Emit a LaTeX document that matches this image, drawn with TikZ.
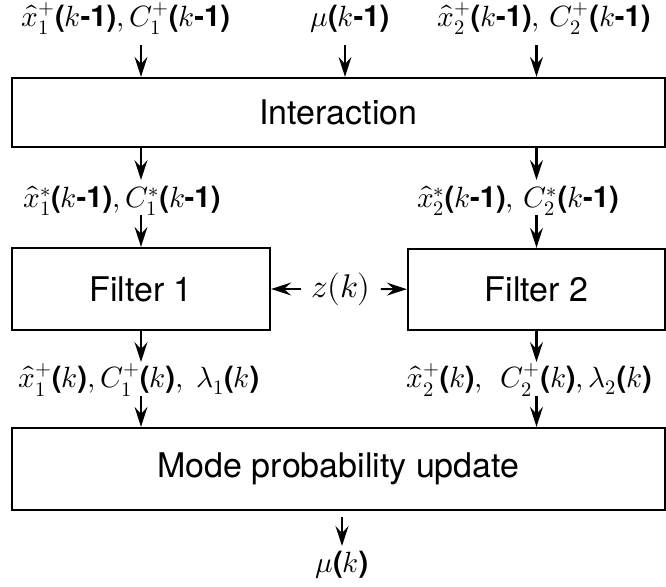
\documentclass[tikz,border=0pt]{standalone}
\usepackage{amsmath}
\usepackage{fontspec}
\usepackage{unicode-math}
\setmathfont{Latin Modern Math}
\setsansfont{TeX Gyre Heros}
\usepackage{tikz}
\usetikzlibrary{arrows.meta}
\newcommand{\bsf}[1]{\text{\sffamily\bfseries #1}}
\newcommand{\kmo}{\bsf{(}k\bsf{-1)}}
\newcommand{\kk}{\bsf{(}k\bsf{)}}

\begin{document}
\begin{tikzpicture}[
      x=0.03cm, y=-0.03cm,
      blk/.style={
        draw, line width=2pt, inner sep=0pt,
        font=\sffamily\fontsize{29}{34}\selectfont
      },
      lbl/.style={inner sep=0pt, font=\fontsize{25}{30}\selectfont},
      arr/.style={-{Stealth[length=17pt,width=11pt,inset=6pt]}, line width=1.8pt}
    ]
      \useasboundingbox (0,0) rectangle (666,587);
      % blocks
      \node[blk, minimum width=19.59cm, minimum height=2.07cm] (inter) at (338.5,112.5){Interaction};
      \node[blk, minimum width=7.74cm, minimum height=2.46cm] (f1) at (141,289){Filter 1};
      \node[blk, minimum width=7.71cm, minimum height=2.43cm] (f2) at (536.5,289.5){Filter 2};
      \node[blk, minimum width=19.59cm, minimum height=2.46cm] (mode) at (338.5,469){Mode probability update};

      % labels
      \node[lbl] (t1) at (126,19){$\hat{x}_1^{+}\kmo,C_1^{+}\kmo$};
      \node[lbl] (t0) at (350,19){$\mu\kmo$};
      \node[lbl] (t2) at (544,19){$\hat{x}_2^{+}\kmo,\,C_2^{+}\kmo$};
      \node[lbl] (m1) at (122,201){$\hat{x}_1^{*}\kmo,C_1^{*}\kmo$};
      \node[lbl] (m2) at (518,201){$\hat{x}_2^{*}\kmo,\,C_2^{*}\kmo$};
      \node[lbl, inner xsep=0.3cm, font=\fontsize{28}{32}\selectfont] (zk) at (341,289){$z(k)$};
      \node[lbl] (b1) at (139,380){$\hat{x}_1^{+}\kk,C_1^{+}\kk,\;\lambda_1\kk$};
      \node[lbl] (b2) at (529,380){$\hat{x}_2^{+}\kk,\;\,C_2^{+}\kk,\lambda_2\kk$};
      \node[lbl] (res) at (342,565){$\mu\kk$};

      % arrow ends
      \foreach \n/\x in {1/141,2/536.5} {
        \coordinate (in\n) at (\x,45);
        \coordinate (out\n) at (\x,180);
        \coordinate (pre\n) at (\x,215);
        \coordinate (post\n) at (\x,362);
        \coordinate (up\n) at (\x,396);
      }
      \coordinate (in0) at (345,45);
      \coordinate (dn) at (342,517);
      \coordinate (dn1) at (342,546);

      \draw[arr] (in0) -- (in0 |- inter.north);
      \foreach \n in {1,2} {
        \draw[arr] (in\n) -- (in\n |- inter.north);
        \draw[arr] (out\n |- inter.south) -- (out\n);
        \draw[arr] (pre\n) -- (f\n);
        \draw[arr] (f\n) -- (post\n);
        \draw[arr] (up\n) -- (up\n |- mode.north);
        \draw[arr] (zk) -- (f\n);
      }
      \draw[arr] (dn) -- (dn1);
    \end{tikzpicture}
\end{document}
